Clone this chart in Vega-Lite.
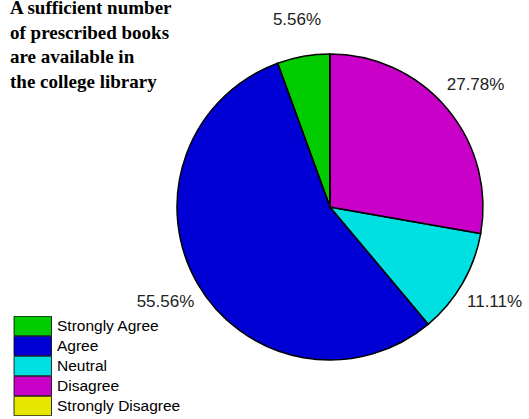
{
  "$schema": "https://vega.github.io/schema/vega-lite/v6.json",
  "width": 380,
  "height": 380,
  "autosize": {"type": "none"},
  "padding": {"left": 140, "top": 17, "right": 9, "bottom": 22},
  "background": "white",
  "title": {
    "text": ["A sufficient number", "of prescribed books", "are available in", "the college library"],
    "anchor": "start",
    "frame": "group",
    "orient": "top",
    "baseline": "top",
    "dx": -130,
    "dy": 81,
    "offset": 0,
    "font": "Liberation Serif",
    "fontSize": 19,
    "fontWeight": "bold",
    "color": "#000000",
    "lineHeight": 24.5
  },
  "data": {
    "values": [
      {"category": "Strongly Agree", "value": 5.56, "label": "5.56%", "ord": 4},
      {"category": "Agree", "value": 55.56, "label": "55.56%", "ord": 3},
      {"category": "Neutral", "value": 11.11, "label": "11.11%", "ord": 2},
      {"category": "Disagree", "value": 27.78, "label": "27.78%", "ord": 1},
      {"category": "Strongly Disagree", "value": 0, "label": "0.00%", "ord": 5}
    ]
  },
  "layer": [
    {
      "mark": {"type": "arc", "outerRadius": 153, "stroke": "#000000", "strokeWidth": 1.5},
      "encoding": {
        "theta": {"field": "value", "type": "quantitative", "stack": true},
        "order": {"field": "ord", "type": "quantitative"},
        "color": {
          "field": "category",
          "type": "nominal",
          "scale": {
            "domain": ["Strongly Agree", "Agree", "Neutral", "Disagree", "Strongly Disagree"],
            "range": ["#00cc00", "#0000d4", "#00e0e0", "#c800c8", "#e6e600"]
          },
          "legend": {
            "orient": "none",
            "legendX": -127,
            "legendY": 299,
            "title": null,
            "symbolType": "M-0.95,-0.97H2.8V0.97H-0.95Z",
            "symbolSize": 400,
            "symbolStrokeColor": "#000000",
            "symbolStrokeWidth": 0.8,
            "symbolOpacity": 1,
            "clipHeight": 20,
            "rowPadding": 0,
            "labelFont": "Liberation Sans",
            "labelFontSize": 15.5,
            "labelColor": "#000000",
            "labelOffset": 23
          }
        }
      }
    },
    {
      "transform": [{"filter": "datum.value > 0"}],
      "mark": {"type": "text", "radius": 190, "font": "Liberation Sans", "fontSize": 17, "color": "#222222"},
      "encoding": {
        "theta": {"field": "value", "type": "quantitative", "stack": true},
        "order": {"field": "ord", "type": "quantitative"},
        "text": {"field": "label", "type": "nominal"}
      }
    }
  ]
}
